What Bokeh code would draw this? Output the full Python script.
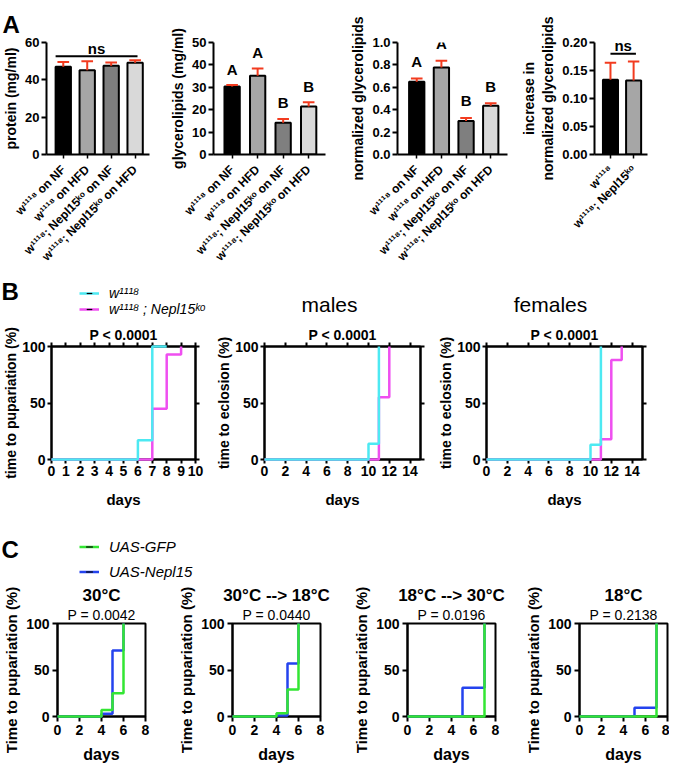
import math
from bokeh.plotting import figure
from bokeh.models import (Range1d, FixedTicker, LinearAxis, Label, Legend, LegendItem,
                          Title)
from bokeh.layouts import column, row
from bokeh.embed import file_html
from bokeh.resources import INLINE
from bokeh.core.properties import value

FONT = "Liberation Sans"
RED = "#f23b1f"
CYAN = "#4de9f2"
MAGENTA = "#ef4ff0"
GREEN = "#33e633"
BLUE = "#2443ee"

# ---------------- Panel A data ----------------
groups4 = ["w¹¹¹⁸ on NF", "w¹¹¹⁸ on HFD", "w¹¹¹⁸; Nepl15ᵏᵒ on NF", "w¹¹¹⁸; Nepl15ᵏᵒ on HFD"]
groups2 = ["w¹¹¹⁸", "w¹¹¹⁸; Nepl15ᵏᵒ"]
bar_colors4 = ["#000000", "#a6a6a6", "#7f7f7f", "#d9d9d9"]
bar_colors2 = ["#000000", "#a6a6a6"]
protein_mean = [47.0, 45.2, 47.5, 49.1]
protein_err = [2.6, 4.8, 1.8, 1.4]
glyc_mean = [30.4, 35.2, 14.2, 21.4]
glyc_err = [0.6, 3.2, 1.7, 1.9]
glyc_letters = ["A", "A", "B", "B"]
norm_mean = [0.649, 0.777, 0.300, 0.435]
norm_err = [0.030, 0.059, 0.027, 0.023]
norm_letters = ["A", "A", "B", "B"]
incr_mean = [0.1337, 0.132]
incr_err = [0.030, 0.034]

# ---------------- Panel B data ----------------
legend_b = ["w¹¹¹⁸", "w¹¹¹⁸ ; Nepl15ᵏᵒ"]
pup_days_wt = [0, 6, 7, 8]
pup_pct_wt = [0, 17, 100, 100]
pup_days_ko = [0, 7, 8, 9]
pup_pct_ko = [0, 45, 93, 100]
male_days_wt = [0, 10, 11]
male_pct_wt = [0, 14, 100]
male_days_ko = [0, 11, 12]
male_pct_ko = [0, 55, 100]
fem_days_wt = [0, 10, 11]
fem_pct_wt = [0, 13, 100]
fem_days_ko = [0, 11, 12, 13]
fem_pct_ko = [0, 18, 88, 100]

# ---------------- Panel C data ----------------
legend_c = ["UAS-GFP", "UAS-Nepl15"]
c_titles = ["30°C", "30°C --> 18°C", "18°C --> 30°C", "18°C"]
c_pvals = ["0.0042", "0.0440", "0.0196", "0.2138"]
gfp_days = [[0, 4, 5, 6], [0, 4, 5, 6], [0, 7], [0, 7]]
gfp_pct = [[0, 7, 25, 100], [0, 3.5, 29, 100], [0, 100], [0, 100]]
nepl_days = [[0, 4, 5, 6], [0, 4, 5, 6], [0, 5, 7], [0, 5, 7]]
nepl_pct = [[0, 3, 71, 100], [0, 1, 57, 100], [0, 31, 100], [0, 9.5, 100]]


def base_fig(w, h, xr, yr, bl, br, bt, bb):
    p = figure(width=w, height=h, x_range=Range1d(*xr), y_range=Range1d(*yr),
               output_backend="svg", toolbar_location=None, title=None,
               min_border_left=bl, min_border_right=br,
               min_border_top=bt, min_border_bottom=bb)
    p.grid.visible = False
    return p


def style_axis(ax, size="13px", tick_out=5, standoff=2):
    ax.axis_line_width = 2
    ax.axis_line_color = "black"
    ax.major_tick_line_width = 2
    ax.major_tick_line_color = "black"
    ax.major_tick_out = tick_out
    ax.major_tick_in = 0
    ax.minor_tick_line_color = None
    ax.major_label_text_font = FONT
    ax.major_label_text_font_style = "bold"
    ax.major_label_text_font_size = size
    ax.major_label_text_color = "black"
    ax.major_label_standoff = standoff
    ax.axis_label_text_font = FONT
    ax.axis_label_text_font_style = "bold"
    ax.axis_label_text_color = "black"


def mirror_axis(ticks):
    ax = LinearAxis(ticker=FixedTicker(ticks=ticks))
    style_axis(ax, size="1px", tick_out=4, standoff=0)
    ax.major_label_text_color = None
    return ax


def lab(p, x, y, text, size, style="bold", align="left"):
    p.add_layout(Label(x=x, y=y, x_units="screen", y_units="screen", text=text,
                       text_font=FONT, text_font_size=size, text_font_style=style,
                       text_align=align, text_baseline="middle", text_color="black"))


def title(p, text, size, style="bold", standoff=0, align="center", offset=0):
    p.add_layout(Title(text=text, align=align, offset=offset, text_font=FONT,
                       text_font_size=size, text_font_style=style, text_color="black",
                       standoff=standoff), "above")


def strip(w, h):
    p = figure(width=w, height=h, x_range=Range1d(0, w), y_range=Range1d(0, h),
               output_backend="svg", toolbar_location=None, title=None,
               x_axis_type=None, y_axis_type=None, min_border=0)
    p.outline_line_color = None
    p.grid.visible = False
    return p


def add_legend_row(p, text, color, x_left, bottom, gh, fsize):
    # proxy renderers kept outside the visible range; only their legend glyph shows
    r = p.line(x=[-20, -10], y=[-20, -20], line_color=color, line_width=2.5)
    d = p.scatter(x=[-15], y=[-20], marker="dash", angle=math.pi / 2, size=5,
                  line_color="black", line_width=1.2)
    lg = Legend(items=[LegendItem(label=text, renderers=[r, d])], location=(x_left, bottom),
                glyph_width=20, glyph_height=gh, label_height=gh, label_standoff=10,
                spacing=0, padding=0, margin=0, border_line_color=None,
                background_fill_alpha=0, label_text_font=FONT,
                label_text_font_style="italic", label_text_font_size=fsize,
                label_text_color="black")
    p.add_layout(lg)


def bar_fig(w, h, bl, br, bt, xr, yr, yticks, ylabel, means, errs, colors, names, bw,
            letters=None, letter_off=16, ns=None):
    bb = 125
    p = base_fig(w, h, xr, yr, bl, br, bt, bb)
    p.outline_line_color = None
    xs = list(range(1, len(means) + 1))
    p.vbar(x=xs, top=means, width=bw, bottom=0, fill_color=colors,
           line_color="black", line_width=2)
    tops = [m + e for m, e in zip(means, errs)]
    cap = bw * 0.38
    p.segment(x0=xs, y0=means, x1=xs, y1=tops, line_color=RED, line_width=2)
    p.segment(x0=[x - cap for x in xs], y0=tops, x1=[x + cap for x in xs], y1=tops,
              line_color=RED, line_width=2)
    if letters:
        p.text(x=xs, y=tops, text=letters, y_offset=-letter_off, text_align="center",
               text_baseline="middle", text_font=value(FONT), text_font_size="15px",
               text_font_style="bold", text_color="black")
    if ns:
        x0, x1, gap = ns
        yb = max(tops) + gap * (yr[1] - yr[0])
        p.segment(x0=[x0], y0=[yb], x1=[x1], y1=[yb], line_color="black", line_width=2)
        p.text(x=[(x0 + x1) / 2], y=[yb], text=["ns"], y_offset=-8, text_align="center",
               text_baseline="middle", text_font=value(FONT), text_font_size="15px",
               text_font_style="bold", text_color="black")
    xa = p.xaxis[0]
    style_axis(xa, size="12px", tick_out=4, standoff=9)
    xa.major_tick_line_width = 1.5
    xa.ticker = FixedTicker(ticks=xs)
    xa.major_label_overrides = {x: n for x, n in zip(xs, names)}
    xa.major_label_orientation = math.pi / 4
    ya = p.yaxis[0]
    style_axis(ya, size="13px", tick_out=5, standoff=2)
    ya.ticker = FixedTicker(ticks=yticks)
    ya.axis_label = ylabel
    ya.axis_label_text_font_size = "14px"
    ya.axis_label_standoff = 3
    return p


def km_fig(w, bl, br, xmax, xticks, ylabel, series, ptext):
    h, bt, bb = 190, 25, 52
    p = base_fig(w, h, (0, xmax), (0, 100), bl, br, bt, bb)
    p.outline_line_color = "black"
    p.outline_line_width = 2
    for xs, ys, c in series:
        p.step(x=xs, y=ys, mode="after", line_color=c, line_width=2.5, level="overlay")
    xa = p.xaxis[0]
    style_axis(xa, size="14px", tick_out=4, standoff=2)
    xa.ticker = FixedTicker(ticks=xticks)
    xa.axis_label = "days"
    xa.axis_label_text_font_size = "15px"
    xa.axis_label_standoff = 12
    ya = p.yaxis[0]
    style_axis(ya, size="14px", tick_out=4, standoff=2)
    ya.ticker = FixedTicker(ticks=[0, 50, 100])
    ya.axis_label = ylabel
    ya.axis_label_text_font_size = "14px"
    ya.axis_label_standoff = 0
    p.add_layout(mirror_axis(xticks), "above")
    p.add_layout(mirror_axis([0, 50, 100]), "right")
    title(p, ptext, "14px", "bold", standoff=0)
    return p


def c_fig(w, bl, br, ttl, pval, gd, gp, nd, npct):
    h, bt, bb = 186, 42, 51
    p = base_fig(w, h, (0, 8), (0, 100), bl, br, bt, bb)
    p.outline_line_color = "black"
    p.outline_line_width = 2
    p.step(x=nd, y=npct, mode="after", line_color=BLUE, line_width=2.5, level="overlay")
    p.step(x=gd, y=gp, mode="after", line_color=GREEN, line_width=2.5, level="overlay")
    xa = p.xaxis[0]
    style_axis(xa, size="14px", tick_out=5, standoff=3)
    xa.ticker = FixedTicker(ticks=[0, 2, 4, 6, 8])
    xa.axis_label = "days"
    xa.axis_label_text_font_size = "16px"
    xa.axis_label_standoff = 8
    ya = p.yaxis[0]
    style_axis(ya, size="14px", tick_out=5, standoff=3)
    ya.ticker = FixedTicker(ticks=[0, 50, 100])
    ya.axis_label = "Time to pupariation (%)"
    ya.axis_label_text_font_size = "15px"
    ya.axis_label_standoff = 3
    title(p, "P = " + pval, "14px", "normal", standoff=1)
    title(p, ttl, "17px", "bold", standoff=0)
    return p


# ---------------- Row A ----------------
a1 = bar_fig(167, 279, 35, 18, 42, (0.3, 4.6), (0, 60), [0, 20, 40, 60], "protein (mg/ml)",
             protein_mean, protein_err, bar_colors4, groups4, 0.64, ns=(0.68, 4.1, 0.035))
title(a1, "A", "24px", "bold", standoff=9, align="left", offset=-44)
a2 = bar_fig(180, 279, 46, 22, 42, (0.27, 4.66), (0, 50), [0, 10, 20, 30, 40, 50],
             "glycerolipids (mg/ml)", glyc_mean, glyc_err, bar_colors4, groups4, 0.6,
             letters=glyc_letters, letter_off=16)
a3 = bar_fig(170, 279, 45, 10, 42, (0.22, 4.68), (0, 1.0), [0, 0.2, 0.4, 0.6, 0.8, 1.0],
             "normalized glycerolipids", norm_mean, norm_err, bar_colors4, groups4, 0.62,
             letters=norm_letters, letter_off=17)
a4 = bar_fig(152, 279, 74, 22, 42, (0.31, 2.6), (0, 0.2), [0, 0.05, 0.10, 0.15, 0.20],
             "increase in\nnormalized glycerolipids", incr_mean, incr_err, bar_colors2,
             groups2, 0.65, ns=(1.0, 2.1, 0.07))
a3.yaxis[0].major_label_overrides = {0: "0.0", 0.2: "0.2", 0.4: "0.4", 0.6: "0.6",
                                     0.8: "0.8", 1.0: "1.0"}
a4.yaxis[0].major_label_overrides = {0: "0.00", 0.05: "0.05", 0.1: "0.10", 0.15: "0.15",
                                     0.2: "0.20"}

# ---------------- Row B ----------------
sB = strip(669, 42)
lab(sB, 1, 30, "B", "24px")
add_legend_row(sB, legend_b[0], CYAN, 79, 42 - 22, 14, "14px")
add_legend_row(sB, legend_b[1], MAGENTA, 79, 42 - 38, 14, "14px")
lab(sB, 329, 17, "males", "21px", style="normal", align="center")
lab(sB, 550, 17, "females", "21px", style="normal", align="center")

b1 = km_fig(213, 35, 18, 10, list(range(0, 11)), "time to pupariation (%)",
            [(pup_days_ko, pup_pct_ko, MAGENTA), (pup_days_wt, pup_pct_wt, CYAN)],
            "P < 0.0001")
b2 = km_fig(222, 46, 15, 15, list(range(0, 15, 2)), "time to eclosion (%)",
            [(male_days_ko, male_pct_ko, MAGENTA), (male_days_wt, male_pct_wt, CYAN)],
            "P < 0.0001")
b3 = km_fig(234, 46, 27, 15, list(range(0, 15, 2)), "time to eclosion (%)",
            [(fem_days_ko, fem_pct_ko, MAGENTA), (fem_days_wt, fem_pct_wt, CYAN)],
            "P < 0.0001")

# ---------------- Row C ----------------
sC = strip(669, 70)
lab(sC, 1, 32, "C", "24px")
add_legend_row(sC, legend_c[0], GREEN, 79, 70 - 43.5, 17, "15px")
add_legend_row(sC, legend_c[1], BLUE, 79, 70 - 68.5, 17, "15px")

c_widths = [(175, 51, 30), (175, 51, 30), (172, 51, 27), (147, 51, 2)]
c_figs = []
for i, (w, bl, br) in enumerate(c_widths):
    c_figs.append(c_fig(w, bl, br, c_titles[i], c_pvals[i], gfp_days[i], gfp_pct[i],
                        nepl_days[i], nepl_pct[i]))

layout = column(row(a1, a2, a3, a4), sB, row(b1, b2, b3), sC, row(*c_figs))

open("out.html", "w").write(file_html(layout, INLINE, title="figure"))
